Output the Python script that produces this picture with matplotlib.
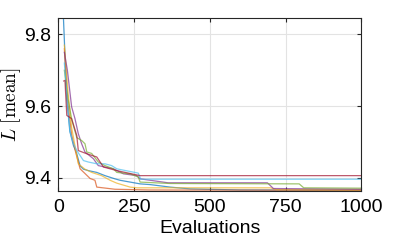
import numpy as np
import matplotlib.pyplot as plt

plt.rcParams['font.family'] = ['Liberation Sans', 'DejaVu Sans']
plt.rcParams['mathtext.fontset'] = 'cm'

# evaluation counts and best-so-far mean loss for each run
x_blue = [0, 17, 28, 38, 50, 60, 72, 83, 99, 127, 154, 187, 204, 237, 270, 303, 369, 435, 600, 1000]
y_blue = [9.845, 9.845, 9.62, 9.53, 9.49, 9.47, 9.433, 9.424, 9.42, 9.415, 9.406, 9.397, 9.393, 9.388, 9.383, 9.381, 9.374, 9.369, 9.366, 9.365]

x_orange = [20, 30, 44, 57, 72, 83, 105, 121, 127, 187, 300, 1000]
y_orange = [9.76, 9.62, 9.52, 9.472, 9.425, 9.416, 9.398, 9.393, 9.374, 9.368, 9.366, 9.365]

x_yellow = [20, 32, 44, 66, 88, 110, 143, 171, 193, 237, 259, 700, 720, 1000]
y_yellow = [9.77, 9.64, 9.54, 9.439, 9.424, 9.415, 9.406, 9.393, 9.385, 9.374, 9.372, 9.372, 9.367, 9.366]

x_purple = [20, 30, 44, 55, 66, 77, 88, 116, 132, 154, 182, 215, 259, 270, 362, 690, 710, 1000]
y_purple = [9.75, 9.70, 9.598, 9.565, 9.523, 9.495, 9.472, 9.453, 9.434, 9.43, 9.425, 9.411, 9.406, 9.397, 9.386, 9.386, 9.37, 9.368]

x_green = [20, 32, 45, 61, 77, 88, 94, 110, 132, 154, 182, 193, 237, 264, 270, 369, 795, 810, 1000]
y_green = [9.70, 9.62, 9.56, 9.512, 9.504, 9.495, 9.472, 9.468, 9.444, 9.434, 9.425, 9.415, 9.411, 9.402, 9.388, 9.384, 9.383, 9.372, 9.371]

x_lblue = [20, 30, 39, 50, 61, 83, 99, 127, 154, 176, 193, 264, 272, 1000]
y_lblue = [9.72, 9.61, 9.528, 9.495, 9.476, 9.448, 9.444, 9.439, 9.439, 9.434, 9.425, 9.413, 9.396, 9.396]

x_red = [18, 22, 28, 44, 61, 66, 94, 127, 149, 193, 270, 1000]
y_red = [9.67, 9.672, 9.574, 9.565, 9.518, 9.476, 9.467, 9.458, 9.43, 9.42, 9.406, 9.406]

runs = [(x_blue, y_blue, '#0072BD'), (x_orange, y_orange, '#D95319'),
        (x_yellow, y_yellow, '#EDB120'), (x_purple, y_purple, '#7E2F8E'),
        (x_green, y_green, '#77AC30'), (x_lblue, y_lblue, '#4DBEEE'),
        (x_red, y_red, '#A2142F')]

fig = plt.figure(figsize=(3.99, 2.47), dpi=100)
ax = fig.add_axes([58.3 / 399, 1 - 190.5 / 247, 303 / 399, 172.2 / 247])

for xs, ys, c in runs:
    ax.plot(xs, ys, color=c, lw=0.9, alpha=0.7)

ax.set_xlim(0, 1000)
ax.set_ylim(9.3645, 9.845)
ax.set_xticks([0, 250, 500, 750, 1000])
ax.set_yticks([9.4, 9.6, 9.8])
ax.grid(True, color='#e3e3e3', lw=0.8)
ax.set_axisbelow(True)
ax.tick_params(direction='in', length=3, labelsize=14, top=True, right=True,
               color='#262626')
ax.tick_params(axis='x', pad=6)
ax.tick_params(axis='y', pad=5)
for s in ax.spines.values():
    s.set_color('#262626')
    s.set_linewidth(0.8)
ax.set_xlabel('Evaluations', fontsize=14, labelpad=3)
ax.set_ylabel(r'$L\ [\mathrm{mean}]$', fontsize=14)
ax.yaxis.set_label_coords(-0.115, 0.5)

fig.savefig('out.png', dpi=100)
